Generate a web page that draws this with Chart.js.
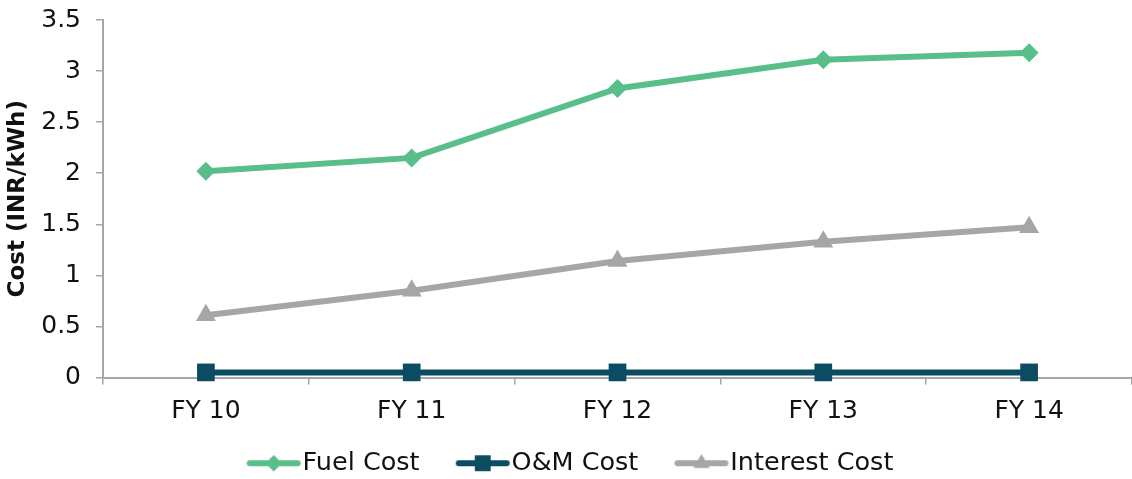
<!DOCTYPE html>
<html>
<head>
<meta charset="utf-8">
<script src="https://cdn.jsdelivr.net/npm/chart.js@4.4.1/dist/chart.umd.min.js"></script>
<style>
  html, body { margin: 0; padding: 0; background: #ffffff; }
  #wrap { width: 1132px; height: 479px; }
</style>
</head>
<body>
<div id="wrap"><canvas id="c" width="1132" height="479"></canvas></div>
<script>
// Fiscal years on the x axis
const years = ['FY 10', 'FY 11', 'FY 12', 'FY 13', 'FY 14'];

// Cost components, INR per kWh
const fuelCost = [2.02, 2.15, 2.83, 3.11, 3.18];
const omCost = [0.05, 0.05, 0.05, 0.05, 0.05];
const interestCost = [0.61, 0.85, 1.14, 1.33, 1.47];

// Y axis ticks
const yTicks = [0, 0.5, 1, 1.5, 2, 2.5, 3, 3.5];

const FONT = 'DejaVu Sans';
const TICK_SIZE = 25;
const FONT_SIZE = 25.5;  // legend text
const LEGEND_PAD = 8;
const LINE_LEN = 56;     // visible length of a legend swatch (line + 2px gap)
const ITEM_GAP = 36;     // space between one label's text and the next swatch
const BOX_W = ITEM_GAP + LINE_LEN - FONT_SIZE / 2 - LEGEND_PAD;

// Legend swatch: a short line with the series marker in its middle,
// padded on the left so it sits right against its label text
function swatch(color, style, r) {
  const w = Math.round(BOX_W + FONT_SIZE), h = 24;
  const cv = document.createElement('canvas');
  cv.width = w; cv.height = h;
  const ctx = cv.getContext('2d');
  const x0 = w - LINE_LEN;
  const x1 = w - 2;
  ctx.strokeStyle = color;
  ctx.lineWidth = 6;
  ctx.lineCap = 'round';
  ctx.beginPath();
  ctx.moveTo(x0 + 3, h / 2);
  ctx.lineTo(x1 - 3, h / 2);
  ctx.stroke();
  ctx.fillStyle = color;
  Chart.helpers.drawPoint(ctx, { pointStyle: style, radius: r, rotation: 0, borderWidth: 0 }, (x0 + x1) / 2, h / 2);
  ctx.fill();
  return cv;
}

const series = [
  { label: 'Fuel Cost', data: fuelCost, color: '#58be8a', style: 'rectRot', r: 9.5, lr: 8 },
  { label: 'O&M Cost', data: omCost, color: '#0b4c63', style: 'rect', r: 12.5, lr: 11 },
  { label: 'Interest Cost', data: interestCost, color: '#a6a6a6', style: 'triangle', r: 11.5, lr: 9 }
];

const datasets = series.map((s, i) => ({
  label: s.label,
  data: s.data,
  borderColor: s.color,
  backgroundColor: s.color,
  borderWidth: 6,
  pointStyle: s.style,
  pointRadius: s.r,
  pointHoverRadius: s.r,
  pointBorderWidth: 0,
  pointBackgroundColor: s.color,
  tension: 0,
  fill: false,
  clip: false,
  order: i === 1 ? 0 : 1
}));

// Drop the automatic label overhang padding so the plot box is set by layout.padding
function noScalePadding(scale) {
  scale.paddingTop = 0;
  scale.paddingBottom = 0;
  scale.paddingLeft = 0;
  scale.paddingRight = 0;
}

// The swatches carry their spacing on the left, so nudge the legend row
// back to keep the visible entries centred
const legendNudge = {
  id: 'legendNudge',
  afterLayout(chart) {
    const lg = chart.legend;
    if (lg) { lg.left -= 10; lg.right -= 10; }
  }
};

new Chart(document.getElementById('c'), {
  type: 'line',
  data: { labels: years, datasets },
  plugins: [legendNudge],
  options: {
    responsive: false,
    animation: false,
    devicePixelRatio: 1,
    layout: { autoPadding: false, padding: { top: 20, right: 0, left: 0, bottom: -7 } },
    plugins: {
      tooltip: { enabled: false },
      legend: {
        position: 'bottom',
        labels: {
          usePointStyle: true,
          pointStyleWidth: BOX_W,
          padding: LEGEND_PAD,
          color: '#111111',
          font: { family: FONT, size: FONT_SIZE },
          generateLabels() {
            return series.map((s, i) => ({
              text: s.label,
              datasetIndex: i,
              pointStyle: swatch(s.color, s.style, s.lr),
              fillStyle: s.color,
              strokeStyle: s.color,
              lineWidth: 0,
              hidden: false,
              fontColor: '#111111'
            }));
          }
        }
      }
    },
    scales: {
      x: {
        type: 'category',
        offset: true,
        afterFit(scale) { scale.height = 65; noScalePadding(scale); },
        grid: {
          offset: true,
          drawOnChartArea: false,
          drawTicks: true,
          tickLength: 7,
          color: '#a6a6a6',
          lineWidth: 1.5
        },
        border: { display: true, color: '#a6a6a6', width: 2 },
        ticks: {
          color: '#111111',
          padding: 12,
          font: { family: FONT, size: TICK_SIZE }
        }
      },
      y: {
        min: 0,
        max: 3.5,
        afterFit(scale) { scale.width = 103; noScalePadding(scale); },
        afterBuildTicks(scale) { scale.ticks = yTicks.map(v => ({ value: v })); },
        grid: {
          drawOnChartArea: false,
          drawTicks: true,
          tickLength: 7,
          color: '#a6a6a6',
          lineWidth: 1.5
        },
        border: { display: true, color: '#a6a6a6', width: 2 },
        ticks: {
          color: '#111111',
          padding: 15,
          font: { family: FONT, size: TICK_SIZE },
          callback: v => String(v)
        },
        title: {
          display: true,
          text: 'Cost (INR/kWh)',
          color: '#111111',
          padding: { top: 4, bottom: 0 },
          font: { family: FONT, size: 23, weight: 'bold' }
        }
      }
    }
  }
});
</script>
</body>
</html>
